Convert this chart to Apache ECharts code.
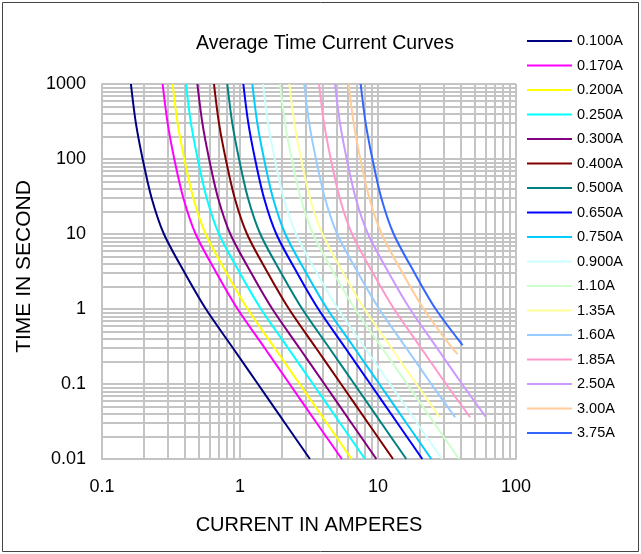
<!DOCTYPE html>
<html>
<head>
<meta charset="utf-8">
<script src="https://cdn.jsdelivr.net/npm/echarts@6/dist/echarts.min.js"></script>
<style>
html,body{margin:0;padding:0;background:#fff;}
#main{width:641px;height:554px;}
</style>
</head>
<body>
<div id="main"></div>
<script>
// ---- data ----
const xTickLabels = ['0.1', '1', '10', '100'];
const yTickLabels = ['0.01', '0.1', '1', '10', '100', '1000'];
const minorX = [0.2,0.3,0.4,0.5,0.6,0.7,0.8,0.9, 2,3,4,5,6,7,8,9, 20,30,40,50,60,70,80,90];
const minorY = [0.02,0.03,0.04,0.05,0.06,0.07,0.08,0.09, 0.2,0.3,0.4,0.5,0.6,0.7,0.8,0.9,
                2,3,4,5,6,7,8,9, 20,30,40,50,60,70,80,90, 200,300,400,500,600,700,800,900];

const ratings = ['0.100A','0.170A','0.200A','0.250A','0.300A','0.400A','0.500A','0.650A','0.750A',
                 '0.900A','1.10A','1.35A','1.60A','1.85A','2.50A','3.00A','3.75A'];
const colors = ['#000080','#ff00ff','#ffff00','#00ffff','#800080','#800000','#008080','#0000ff','#00ccff',
                '#ccffff','#ccffcc','#ffff99','#99ccff','#ff99cc','#cc99ff','#ffcc99','#3366ff'];

// time (s) values at which currents were read
const times = [1000, 300, 100, 30, 10, 3, 1, 0.3, 0.1, 0.03, 0.01];

// currents (A) read at each time, per rating
const c0100 = [0.162, 0.176, 0.197, 0.229, 0.281, 0.399, 0.566, 0.891, 1.348, 2.122, 3.21];
const c0170 = [0.275, 0.299, 0.334, 0.389, 0.477, 0.677, 0.961, 1.513, 2.289, 3.603, 5.47];
const c0200 = [0.325, 0.353, 0.395, 0.459, 0.564, 0.800, 1.136, 1.788, 2.706, 4.259, 6.44];
const c0250 = [0.406, 0.441, 0.494, 0.574, 0.704, 1.000, 1.419, 2.234, 3.380, 5.320, 8.05];
const c0300 = [0.491, 0.534, 0.597, 0.694, 0.851, 1.209, 1.716, 2.701, 4.088, 6.433, 9.73];
const c0400 = [0.648, 0.704, 0.788, 0.916, 1.124, 1.595, 2.265, 3.565, 5.395, 8.491, 12.85];
const c0500 = [0.809, 0.879, 0.984, 1.143, 1.403, 1.992, 2.827, 4.450, 6.734, 10.60, 16.03];
const c0650 = [1.057, 1.149, 1.285, 1.494, 1.833, 2.602, 3.694, 5.814, 8.799, 13.85, 20.95];
const c0750 = [1.228, 1.335, 1.493, 1.735, 2.129, 3.023, 4.292, 6.756, 10.22, 16.09, 24.34];
const c0900 = [1.468, 1.596, 1.785, 2.074, 2.546, 3.614, 5.13, 8.075, 12.22, 19.23, 29.09];
const c1100 = [1.95, 2.12, 2.37, 2.755, 3.381, 4.80, 6.82, 10.73, 16.25, 25.57, 38.68];
const c1350 = [2.28, 2.478, 2.772, 3.222, 3.954, 5.613, 7.97, 12.54, 18.98];
const c1600 = [2.92, 3.174, 3.551, 4.126, 5.063, 7.19, 10.21, 16.07, 24.32];
const c1850 = [3.74, 4.065, 4.548, 5.285, 6.485, 9.208, 13.07, 20.57, 31.13];
const c2500 = [4.88, 5.305, 5.934, 6.895, 8.462, 12.01, 17.06, 26.85, 40.64];
const c3000 = [6.13, 6.663, 7.454, 8.662, 10.63, 15.09, 21.42, 34.5];
const c3750 = [7.49, 8.14, 9.108, 10.58, 12.99, 18.44, 26.18];

// last points of curves that stop before 0.01 s: [current, time]
const end1350 = [28.0, 0.036];
const end1600 = [36.2, 0.036];
const end1850 = [46.5, 0.036];
const end2500 = [60.0, 0.037];
const end3000 = [37.8, 0.25];
const end3750 = [41.0, 0.33];

const currents = [c0100,c0170,c0200,c0250,c0300,c0400,c0500,c0650,c0750,c0900,c1100,c1350,c1600,c1850,c2500,c3000,c3750];
const ends = [null,null,null,null,null,null,null,null,null,null,null,end1350,end1600,end1850,end2500,end3000,end3750];

// ---- chart ----
const FONT = '"Liberation Sans", Arial, Helvetica, sans-serif';
const chart = echarts.init(document.getElementById('main'), null, {renderer: 'canvas'});

const series = [];
// minor grid lines as mark lines on an empty helper series
series.push({
  name: '__grid',
  type: 'line',
  data: [],
  z: 1,
  silent: true,
  markLine: {
    z: 1,
    silent: true,
    symbol: ['none', 'none'],
    label: {show: false},
    animation: false,
    lineStyle: {color: '#c4c4c4', width: 2, type: 'solid'},
    emphasis: {disabled: true},
    data: minorX.map(v => ({xAxis: v})).concat(minorY.map(v => ({yAxis: v})))
  }
});

ratings.forEach((name, i) => {
  const pts = currents[i].map((c, k) => [c, times[k]]);
  if (ends[i]) pts.push(ends[i]);
  series.push({
    name: name,
    type: 'line',
    data: pts,
    smooth: 0.3,
    showSymbol: false,
    symbol: 'none',
    z: 10,
    lineStyle: {color: colors[i], width: 2},
    itemStyle: {color: colors[i]},
    animation: false
  });
});

function labelFor(arr, lo, v) {
  const idx = Math.round(Math.log10(v)) - lo;
  return arr[idx] !== undefined ? arr[idx] : '';
}

chart.setOption({
  backgroundColor: '#ffffff',
  animation: false,
  title: {
    text: 'Average Time Current Curves',
    left: 320, top: 29, textAlign: 'center',
    textStyle: {fontFamily: FONT, fontSize: 19.5, fontWeight: 'normal', color: '#000'}
  },
  legend: {
    data: ratings,
    orient: 'vertical',
    left: 527, top: 33,
    padding: 0,
    itemWidth: 45, itemHeight: 2,
    itemGap: 8.5,
    icon: 'rect',
    selectedMode: false,
    textStyle: {fontFamily: FONT, fontSize: 14.5, color: '#000', lineHeight: 16}
  },
  grid: {left: 102, right: 125, top: 84, bottom: 95, containLabel: false},
  xAxis: {
    type: 'log', logBase: 10, min: 0.1, max: 100,
    name: 'CURRENT IN AMPERES', nameLocation: 'middle', nameGap: 56,
    nameTextStyle: {fontFamily: FONT, fontSize: 20, color: '#000'},
    axisLine: {show: true, lineStyle: {color: '#c4c4c4', width: 2}},
    axisTick: {show: false},
    axisLabel: {margin: 19, fontFamily: FONT, fontSize: 18, color: '#000',
      formatter: v => labelFor(xTickLabels, -1, v)},
    splitLine: {show: true, lineStyle: {color: '#c4c4c4', width: 2}}
  },
  yAxis: {
    type: 'log', logBase: 10, min: 0.01, max: 1000,
    name: 'TIME IN SECOND', nameLocation: 'middle', nameGap: 64,
    nameTextStyle: {fontFamily: FONT, fontSize: 21, color: '#000', padding: [0, 0, 0, 10]},
    axisLine: {show: true, lineStyle: {color: '#c4c4c4', width: 2}},
    axisTick: {show: false},
    axisLabel: {margin: 16, fontFamily: FONT, fontSize: 18, color: '#000',
      formatter: v => labelFor(yTickLabels, -2, v)},
    splitLine: {show: true, lineStyle: {color: '#c4c4c4', width: 2}}
  },
  graphic: [{
    type: 'rect', z: 100, silent: true,
    shape: {x: 2.5, y: 2.5, width: 636, height: 549},
    style: {fill: 'none', stroke: '#444', lineWidth: 1}
  }],
  series: series
});
</script>
</body>
</html>
